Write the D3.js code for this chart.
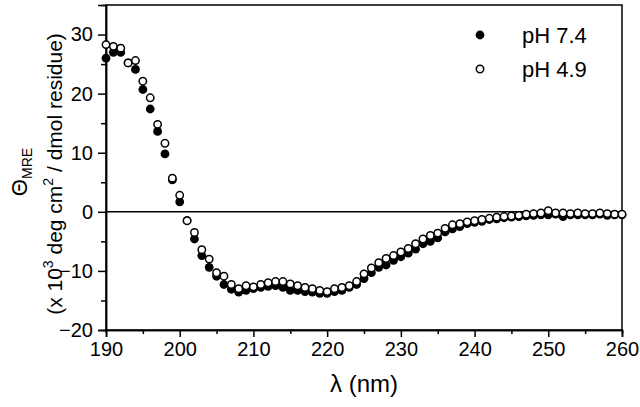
<!DOCTYPE html>
<html>
<head>
<meta charset="utf-8">
<script src="https://cdn.jsdelivr.net/npm/d3@7"></script>
<style>
  body { margin: 0; background: #fff; }
  svg { display: block; font-family: "Liberation Sans", Arial, sans-serif; }
  .axis path, .axis line { stroke: #000; stroke-width: 1.5; }
  .axis text { font-size: 20px; fill: #000; }
</style>
</head>
<body>
<script>
// wavelength (nm)
var wavelengths = [190,191,192,193,194,195,196,197,198,199,
    200,201,202,203,204,205,206,207,208,209,
    210,211,212,213,214,215,216,217,218,219,
    220,221,222,223,224,225,226,227,228,229,
    230,231,232,233,234,235,236,237,238,239,
    240,241,242,243,244,245,246,247,248,249,
    250,251,252,253,254,255,256,257,258,259,260];

// theta MRE (x 10^3) at pH 7.4 (filled)
var ph74 = [26.0,27.0,27.0,25.2,24.1,20.7,17.4,13.6,9.8,5.4,
    1.7,-1.5,-4.6,-7.4,-9.4,-10.9,-12.3,-13.1,-13.6,-13.3,
    -13.0,-12.8,-12.6,-12.5,-12.8,-13.3,-13.3,-13.5,-13.6,-13.8,
    -13.8,-13.5,-13.3,-12.8,-12.3,-11.3,-10.3,-9.4,-9.0,-8.2,
    -7.6,-7.0,-6.3,-5.4,-5.0,-4.4,-3.4,-2.9,-2.5,-2.0,
    -1.8,-1.6,-1.3,-1.2,-1.0,-0.9,-0.8,-0.7,-0.6,-0.5,
    -0.5,-0.4,-0.8,-0.5,-0.5,-0.5,-0.5,-0.4,-0.6,-0.5,-0.5];

// theta MRE (x 10^3) at pH 4.9 (open)
var ph49 = [28.3,28.0,27.7,25.2,25.6,22.1,19.3,14.8,11.6,5.7,
    2.8,-1.5,-3.5,-6.4,-8.0,-10.3,-10.9,-12.3,-13.0,-12.5,
    -12.7,-12.3,-12.0,-11.8,-11.8,-12.2,-12.5,-12.8,-13.0,-13.3,
    -13.5,-13.0,-12.8,-12.5,-11.8,-10.5,-9.5,-8.6,-7.9,-7.4,
    -6.8,-6.2,-5.4,-4.6,-4.0,-3.6,-2.8,-2.2,-2.0,-1.7,
    -1.5,-1.3,-1.1,-0.9,-0.8,-0.7,-0.6,-0.4,-0.3,-0.2,
    0.2,-0.2,-0.2,-0.3,-0.2,-0.3,-0.3,-0.2,-0.3,-0.4,-0.4];

var xMajor = [190,200,210,220,230,240,250,260];
var xMinor = [195,205,215,225,235,245,255];
var yMajor = [-20,-10,0,10,20,30];
var yMinor = [-15,-5,5,15,25];
var legendLabels = ["pH 7.4", "pH 4.9"];

var width = 640, height = 407;
var margin = {top: 5, left: 106, right: 18, bottom: 77};

var svg = d3.select("body").append("svg")
    .attr("width", width)
    .attr("height", height);

var x = d3.scaleLinear().domain([190, 260]).range([margin.left, width - margin.right]);
var y = d3.scaleLinear().domain([-20, 35]).range([height - margin.bottom, margin.top]);

// frame
svg.append("rect")
    .attr("x", x(190)).attr("y", y(35))
    .attr("width", x(260) - x(190)).attr("height", y(-20) - y(35))
    .attr("fill", "none").attr("stroke", "#000").attr("stroke-width", 1.5);

// zero line
svg.append("line")
    .attr("x1", x(190)).attr("x2", x(260))
    .attr("y1", y(0)).attr("y2", y(0))
    .attr("stroke", "#000").attr("stroke-width", 1.5);

// axes
svg.append("g").attr("class", "axis")
    .attr("transform", "translate(0," + y(-20) + ")")
    .call(d3.axisBottom(x).tickValues(xMajor).tickSize(7).tickPadding(5).tickFormat(d3.format("d")));
svg.append("g").attr("class", "axis")
    .attr("transform", "translate(0," + y(-20) + ")")
    .call(d3.axisBottom(x).tickValues(xMinor).tickSize(4).tickFormat(""));
svg.append("g").attr("class", "axis")
    .attr("transform", "translate(" + x(190) + ",0)")
    .call(d3.axisLeft(y).tickValues(yMajor).tickSize(8).tickPadding(5).tickFormat(d3.format("d")));
svg.append("g").attr("class", "axis")
    .attr("transform", "translate(" + x(190) + ",0)")
    .call(d3.axisLeft(y).tickValues(yMinor).tickSize(5).tickFormat(""));

// data: filled first, open on top
svg.append("g").selectAll("circle")
    .data(wavelengths)
    .enter().append("circle")
    .attr("cx", function (d) { return x(d); })
    .attr("cy", function (d, i) { return y(ph74[i]); })
    .attr("r", 4.4)
    .attr("fill", "#000");

svg.append("g").selectAll("circle")
    .data(wavelengths)
    .enter().append("circle")
    .attr("cx", function (d) { return x(d); })
    .attr("cy", function (d, i) { return y(ph49[i]); })
    .attr("r", 3.7)
    .attr("fill", "#fff")
    .attr("stroke", "#000")
    .attr("stroke-width", 1.5);

// legend
var legend = svg.append("g");
legend.append("circle").attr("cx", 480).attr("cy", 35).attr("r", 4.4).attr("fill", "#000");
legend.append("circle").attr("cx", 480).attr("cy", 69).attr("r", 3.7)
    .attr("fill", "#fff").attr("stroke", "#000").attr("stroke-width", 1.5);
legend.selectAll("text")
    .data(legendLabels)
    .enter().append("text")
    .attr("x", 522)
    .attr("y", function (d, i) { return 43 + i * 34; })
    .attr("font-size", 22)
    .text(function (d) { return d; });

// x title
svg.append("text")
    .attr("x", 364).attr("y", 392)
    .attr("text-anchor", "middle")
    .attr("font-size", 24)
    .text("λ (nm)");

// y title, two lines
var yt1 = svg.append("text")
    .attr("transform", "translate(27,172) rotate(-90)")
    .attr("text-anchor", "middle")
    .attr("font-size", 22);
yt1.append("tspan").text("Θ");
yt1.append("tspan").attr("font-size", 14).attr("dy", 5).text("MRE");

var yt2 = svg.append("text")
    .attr("transform", "translate(62,174) rotate(-90)")
    .attr("text-anchor", "middle")
    .attr("font-size", 21);
yt2.append("tspan").text("(x 10");
yt2.append("tspan").attr("font-size", 14).attr("dy", -9).text("3");
yt2.append("tspan").attr("dy", 9).text(" deg cm");
yt2.append("tspan").attr("font-size", 14).attr("dy", -9).text("2");
yt2.append("tspan").attr("dy", 9).text(" / dmol residue)");
</script>
</body>
</html>
